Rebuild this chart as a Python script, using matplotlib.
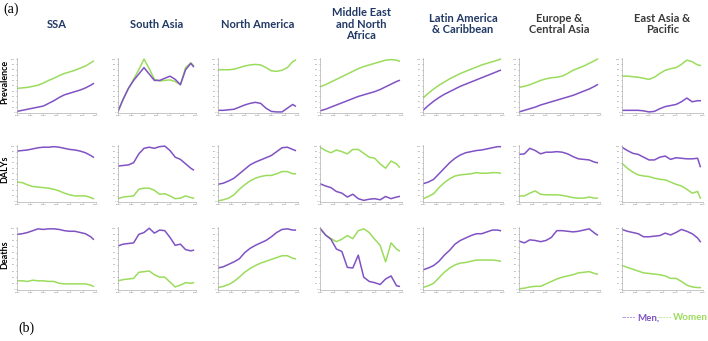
import matplotlib.pyplot as plt
from matplotlib.ticker import MaxNLocator

# Trend series, 1990-2019, expressed on a 0-100 scale within each panel
YEARS = [1990, 1992, 1994, 1996, 1998, 2000, 2002, 2004,
         2006, 2008, 2010, 2012, 2014, 2016, 2018, 2019]

REGIONS = ["SSA", "South Asia", "North America", "Middle East\nand North\nAfrica",
           "Latin America\n& Caribbean", "Europe &\nCentral Asia", "East Asia &\nPacific"]
TITLE_COLORS = ["#203864", "#203864", "#203864", "#203864", "#203864", "#3a3a3a", "#3a3a3a"]
MEASURES = ["Prevalence", "DALYs", "Deaths"]

# --- Prevalence ---
SSA_PREV_MEN = [2, 4, 6, 8, 10, 12, 17, 22, 28, 33, 36, 39, 42, 46, 51, 54]
SSA_PREV_WOMEN = [45, 46, 47, 49, 51, 55, 60, 64, 69, 73, 76, 79, 83, 87, 93, 96]
SAS_PREV_MEN = [2, 25, 45, 60, 72, 84, 72, 60, 60, 64, 68, 62, 52, 80, 92, 86]
SAS_PREV_WOMEN = [2, 25, 45, 62, 80, 100, 82, 62, 59, 60, 61, 58, 52, 84, 93, 88]
NAM_PREV_MEN = [4, 4, 5, 6, 10, 14, 17, 19, 17, 8, 2, 1, 1, 8, 15, 12]
NAM_PREV_WOMEN = [80, 80, 80, 81, 84, 87, 89, 90, 89, 84, 78, 77, 79, 84, 95, 98]
MENA_PREV_MEN = [3, 6, 10, 14, 18, 22, 26, 30, 33, 36, 39, 43, 48, 53, 58, 60]
MENA_PREV_WOMEN = [48, 52, 57, 62, 67, 72, 77, 82, 86, 89, 92, 95, 98, 99, 98, 96]
LAC_PREV_MEN = [4, 13, 21, 28, 34, 39, 44, 49, 53, 57, 61, 65, 69, 73, 77, 79]
LAC_PREV_WOMEN = [27, 36, 44, 51, 57, 63, 68, 73, 77, 81, 85, 89, 92, 95, 98, 100]
ECA_PREV_MEN = [1, 4, 7, 10, 14, 17, 20, 23, 26, 29, 32, 36, 40, 44, 49, 52]
ECA_PREV_WOMEN = [47, 49, 52, 56, 60, 63, 65, 66, 68, 73, 79, 83, 87, 92, 97, 100]
EAP_PREV_MEN = [4, 4, 4, 4, 3, 1, 2, 7, 11, 13, 15, 20, 27, 20, 22, 22]
EAP_PREV_WOMEN = [68, 68, 67, 66, 64, 62, 66, 73, 79, 82, 84, 90, 98, 95, 89, 88]

# --- DALYs ---
SSA_DALY_MEN = [91, 92, 93, 95, 97, 98, 98, 99, 98, 96, 94, 93, 91, 88, 83, 80]
SSA_DALY_WOMEN = [35, 34, 30, 27, 26, 25, 24, 22, 19, 15, 12, 10, 10, 10, 7, 5]
SAS_DALY_MEN = [64, 65, 66, 70, 86, 96, 98, 96, 99, 100, 92, 80, 76, 68, 60, 57]
SAS_DALY_WOMEN = [5, 8, 9, 10, 22, 24, 24, 20, 13, 14, 10, 5, 6, 10, 7, 6]
NAM_DALY_MEN = [31, 33, 37, 42, 50, 58, 66, 71, 75, 79, 83, 90, 97, 98, 94, 92]
NAM_DALY_WOMEN = [1, 3, 6, 12, 22, 30, 37, 42, 45, 47, 47, 50, 54, 54, 50, 50]
MENA_DALY_MEN = [32, 28, 25, 18, 15, 8, 13, 5, 2, 4, 5, 3, 9, 5, 8, 9]
MENA_DALY_WOMEN = [98, 92, 88, 93, 90, 86, 94, 94, 87, 80, 78, 68, 60, 73, 68, 62]
LAC_DALY_MEN = [32, 35, 40, 50, 60, 70, 78, 84, 88, 90, 92, 93, 95, 97, 99, 99]
LAC_DALY_WOMEN = [5, 9, 14, 25, 34, 41, 46, 48, 49, 50, 52, 51, 51, 52, 52, 51]
ECA_DALY_MEN = [85, 86, 96, 92, 86, 89, 89, 90, 89, 86, 81, 77, 76, 75, 71, 70]
ECA_DALY_WOMEN = [10, 10, 15, 19, 13, 12, 12, 12, 11, 9, 7, 6, 6, 8, 6, 6]
EAP_DALY_MEN = [98, 92, 87, 85, 80, 75, 75, 80, 82, 76, 79, 78, 77, 77, 78, 63]
EAP_DALY_WOMEN = [69, 60, 53, 48, 46, 45, 42, 40, 39, 35, 31, 28, 22, 15, 18, 6]

# --- Deaths ---
SSA_DEATH_MEN = [90, 91, 93, 96, 99, 98, 99, 99, 98, 96, 95, 95, 93, 91, 86, 82]
SSA_DEATH_WOMEN = [14, 14, 13, 15, 14, 14, 13, 13, 10, 9, 9, 9, 9, 9, 7, 5]
SAS_DEATH_MEN = [71, 74, 75, 76, 90, 93, 100, 92, 97, 96, 85, 72, 74, 65, 63, 64]
SAS_DEATH_WOMEN = [14, 16, 17, 18, 28, 29, 30, 24, 20, 20, 12, 4, 7, 11, 10, 11]
NAM_DEATH_MEN = [35, 37, 41, 45, 50, 60, 67, 72, 76, 80, 86, 93, 98, 99, 97, 97]
NAM_DEATH_WOMEN = [3, 5, 8, 13, 20, 28, 34, 39, 43, 46, 49, 52, 55, 55, 51, 50]
MENA_DEATH_MEN = [100, 89, 82, 66, 62, 36, 35, 56, 20, 13, 11, 8, 17, 22, 6, 5]
MENA_DEATH_WOMEN = [100, 89, 83, 78, 82, 88, 83, 96, 99, 93, 82, 72, 45, 76, 66, 63]
LAC_DEATH_MEN = [32, 35, 39, 46, 56, 64, 74, 80, 84, 88, 91, 91, 94, 97, 97, 96]
LAC_DEATH_WOMEN = [3, 6, 10, 19, 28, 35, 40, 43, 44, 46, 48, 48, 48, 48, 47, 46]
ECA_DEATH_MEN = [79, 76, 81, 80, 78, 80, 85, 96, 96, 95, 94, 95, 97, 99, 92, 89]
ECA_DEATH_WOMEN = [1, 2, 4, 5, 5, 9, 13, 17, 20, 22, 24, 27, 28, 29, 26, 25]
EAP_DEATH_MEN = [98, 95, 93, 91, 86, 86, 87, 88, 92, 89, 93, 98, 95, 91, 84, 78]
EAP_DEATH_WOMEN = [39, 36, 33, 30, 27, 26, 25, 24, 22, 18, 18, 13, 7, 4, 3, 3]

PANELS = [
    [(SSA_PREV_MEN, SSA_PREV_WOMEN), (SAS_PREV_MEN, SAS_PREV_WOMEN),
     (NAM_PREV_MEN, NAM_PREV_WOMEN), (MENA_PREV_MEN, MENA_PREV_WOMEN),
     (LAC_PREV_MEN, LAC_PREV_WOMEN), (ECA_PREV_MEN, ECA_PREV_WOMEN),
     (EAP_PREV_MEN, EAP_PREV_WOMEN)],
    [(SSA_DALY_MEN, SSA_DALY_WOMEN), (SAS_DALY_MEN, SAS_DALY_WOMEN),
     (NAM_DALY_MEN, NAM_DALY_WOMEN), (MENA_DALY_MEN, MENA_DALY_WOMEN),
     (LAC_DALY_MEN, LAC_DALY_WOMEN), (ECA_DALY_MEN, ECA_DALY_WOMEN),
     (EAP_DALY_MEN, EAP_DALY_WOMEN)],
    [(SSA_DEATH_MEN, SSA_DEATH_WOMEN), (SAS_DEATH_MEN, SAS_DEATH_WOMEN),
     (NAM_DEATH_MEN, NAM_DEATH_WOMEN), (MENA_DEATH_MEN, MENA_DEATH_WOMEN),
     (LAC_DEATH_MEN, LAC_DEATH_WOMEN), (ECA_DEATH_MEN, ECA_DEATH_WOMEN),
     (EAP_DEATH_MEN, EAP_DEATH_WOMEN)],
]

MEN_COLOR = "#8052c4"
WOMEN_COLOR = "#9bdc5c"

W, H = 708, 341
COL_SPANS = [(17, 96), (118, 196), (218, 298), (320, 402), (423, 503), (519, 600), (622, 703)]
ROW_SPANS = [(58, 113), (145, 202), (227, 290)]

fig = plt.figure(figsize=(W / 100, H / 100), dpi=100)
fig.patch.set_facecolor("white")


def px_rect(x0, x1, y0, y1):
    return [x0 / W, 1 - y1 / H, (x1 - x0) / W, (y1 - y0) / H]


for r, (y0, y1) in enumerate(ROW_SPANS):
    for c, (x0, x1) in enumerate(COL_SPANS):
        ax = fig.add_axes(px_rect(x0, x1, y0, y1))
        men, women = PANELS[r][c]
        ax.plot(YEARS, women, color=WOMEN_COLOR, lw=1.1)
        ax.plot(YEARS, men, color=MEN_COLOR, lw=1.1)
        ax.set_xlim(1990, 2020)
        ax.set_ylim(-1, 102)
        ax.set_xticks(range(1990, 2021, 5))
        ax.yaxis.set_major_locator(MaxNLocator(nbins=12))
        ax.tick_params(labelsize=1.6, length=1, width=0.4, pad=0.5,
                       colors="#7a7a7a")
        for side in ("top", "right"):
            ax.spines[side].set_visible(False)
        for side in ("left", "bottom"):
            ax.spines[side].set_color("#b0b0b0")
            ax.spines[side].set_linewidth(0.5)

# region titles
for c, (x0, x1) in enumerate(COL_SPANS):
    fig.text((x0 + x1) / 2 / W, 1 - 24 / H, REGIONS[c], ha="center", va="center",
             fontsize=8, fontweight="bold", family="Lato", color=TITLE_COLORS[c],
             linespacing=1.1)

# measure labels
for r, (y0, y1) in enumerate(ROW_SPANS):
    fig.text(5 / W, 1 - ((y0 + y1) / 2 - 4) / H, MEASURES[r], rotation=90,
             ha="center", va="center", fontsize=6.5, fontweight="bold", family="Lato")

fig.text(3 / W, 1 - 9 / H, "(a)", fontsize=10, family="Liberation Serif", va="center")
fig.text(18 / W, 1 - 328 / H, "(b)", fontsize=10, family="Liberation Serif", va="center")

# legend line
fig.text(622 / W, 1 - 318 / H, "-----", color=MEN_COLOR, fontsize=5.5, va="center",
         family="Lato")
fig.text(637 / W, 1 - 318 / H, "Men,", color=MEN_COLOR, fontsize=7, va="center",
         fontweight="bold", family="Lato")
fig.text(658 / W, 1 - 318 / H, "-----", color=WOMEN_COLOR, fontsize=5.5, va="center",
         family="Lato")
fig.text(673 / W, 1 - 318 / H, "Women", color=WOMEN_COLOR, fontsize=7, va="center",
         fontweight="bold", family="Lato")

fig.savefig("out.png", dpi=100)
